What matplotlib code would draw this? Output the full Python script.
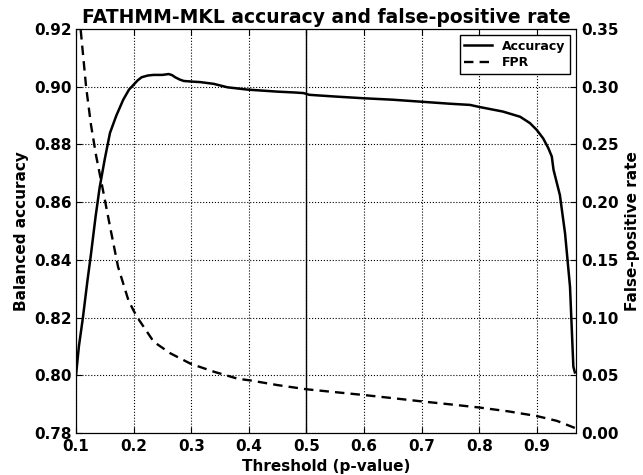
import matplotlib
matplotlib.use("Agg")
import matplotlib.pyplot as plt

# balanced accuracy vs p-value threshold
thr_acc = [0.1, 0.105, 0.112, 0.12, 0.126, 0.134, 0.141, 0.15, 0.159, 0.17,
           0.182, 0.192, 0.2, 0.207, 0.214, 0.225, 0.235, 0.25, 0.261, 0.267,
           0.272, 0.28, 0.287, 0.3, 0.316, 0.339, 0.363, 0.398, 0.42, 0.45,
           0.48, 0.495, 0.505, 0.55, 0.6, 0.65, 0.7, 0.75, 0.784, 0.8,
           0.841, 0.871, 0.888, 0.9, 0.911, 0.92, 0.926, 0.929, 0.94, 0.949,
           0.9576, 0.9634, 0.966]
accuracy = [0.800, 0.810, 0.820, 0.833, 0.842, 0.855, 0.865, 0.875, 0.884, 0.890,
            0.8955, 0.899, 0.9007, 0.9022, 0.9033, 0.9039, 0.9041, 0.9041, 0.9044, 0.9040,
            0.9033, 0.9025, 0.9020, 0.9018, 0.9016, 0.9010, 0.8998, 0.8990, 0.8987, 0.8983,
            0.8980, 0.8978, 0.8972, 0.8966, 0.8960, 0.8955, 0.8948, 0.8941, 0.8937, 0.8930,
            0.8914, 0.8896, 0.8874, 0.8850, 0.8821, 0.8787, 0.8758, 0.8712, 0.8625, 0.8492,
            0.8307, 0.8030, 0.8010]

# false-positive rate vs threshold
thr_fpr = [0.1, 0.108, 0.1175, 0.126, 0.135, 0.145, 0.159, 0.173, 0.191, 0.2,
           0.208, 0.235, 0.264, 0.299, 0.34, 0.381, 0.402, 0.45, 0.5, 0.55,
           0.6, 0.65, 0.7, 0.75, 0.8, 0.85, 0.9, 0.935, 0.966]
fpr = [0.420, 0.350, 0.300, 0.267, 0.240, 0.215, 0.179, 0.144, 0.115, 0.106,
       0.099, 0.079, 0.069, 0.060, 0.053, 0.047, 0.0456, 0.0415, 0.0379, 0.0354,
       0.0329, 0.0302, 0.0274, 0.0248, 0.0221, 0.0188, 0.0147, 0.0105, 0.0044]

plt.rcParams["font.family"] = "DejaVu Sans"
plt.rcParams["font.weight"] = "bold"
plt.rcParams["axes.labelweight"] = "bold"
plt.rcParams["axes.titleweight"] = "bold"

fig, ax1 = plt.subplots(figsize=(6.43, 4.75), dpi=100)
fig.subplots_adjust(left=0.1182, right=0.8958, top=0.9389, bottom=0.0884)
ax2 = ax1.twinx()

l1, = ax1.plot(thr_acc, accuracy, color="black", lw=1.8, label="Accuracy")
l2, = ax2.plot(thr_fpr, fpr, color="black", lw=1.7, linestyle=(0, (4, 2.6)), label="FPR")
ax1.axvline(0.5, color="black", lw=1)

ax1.set_xlim(0.1, 0.968)
ax1.set_ylim(0.78, 0.92)
ax2.set_ylim(0.0, 0.35)
ax1.set_xticks([0.1, 0.2, 0.3, 0.4, 0.5, 0.6, 0.7, 0.8, 0.9])
ax1.set_yticks([0.78, 0.80, 0.82, 0.84, 0.86, 0.88, 0.90, 0.92])
ax2.set_yticks([0.0, 0.05, 0.10, 0.15, 0.20, 0.25, 0.30, 0.35])
ax1.yaxis.set_major_formatter(matplotlib.ticker.FormatStrFormatter("%.2f"))
ax2.yaxis.set_major_formatter(matplotlib.ticker.FormatStrFormatter("%.2f"))

ax1.grid(True, color="black", linestyle=":", lw=0.8)
ax1.tick_params(axis="y", direction="in", length=4, labelsize=11, pad=3)
ax1.tick_params(axis="x", direction="in", top=True, length=4, labelsize=11, pad=4)
ax2.tick_params(direction="in", length=4, labelsize=11, pad=4)
for ax in (ax1, ax2):
    for lbl in ax.get_xticklabels() + ax.get_yticklabels():
        lbl.set_fontweight("bold")

ax1.set_xlabel("Threshold (p-value)", fontsize=11, labelpad=4)
ax1.set_ylabel("Balanced accuracy", fontsize=11)
ax2.set_ylabel("False-positive rate", fontsize=11)
ax1.set_title("FATHMM-MKL accuracy and false-positive rate", fontsize=13.5, pad=4)

leg = ax1.legend([l1, l2], ["Accuracy", "FPR"], loc="upper right", fontsize=9,
                 fancybox=False, framealpha=1, edgecolor="black",
                 borderaxespad=0.5, handlelength=2.2, labelspacing=0.3,
                 borderpad=0.35)
leg.get_frame().set_linewidth(1)
for t in leg.get_texts():
    t.set_fontweight("bold")

fig.savefig("out.png", dpi=100)
